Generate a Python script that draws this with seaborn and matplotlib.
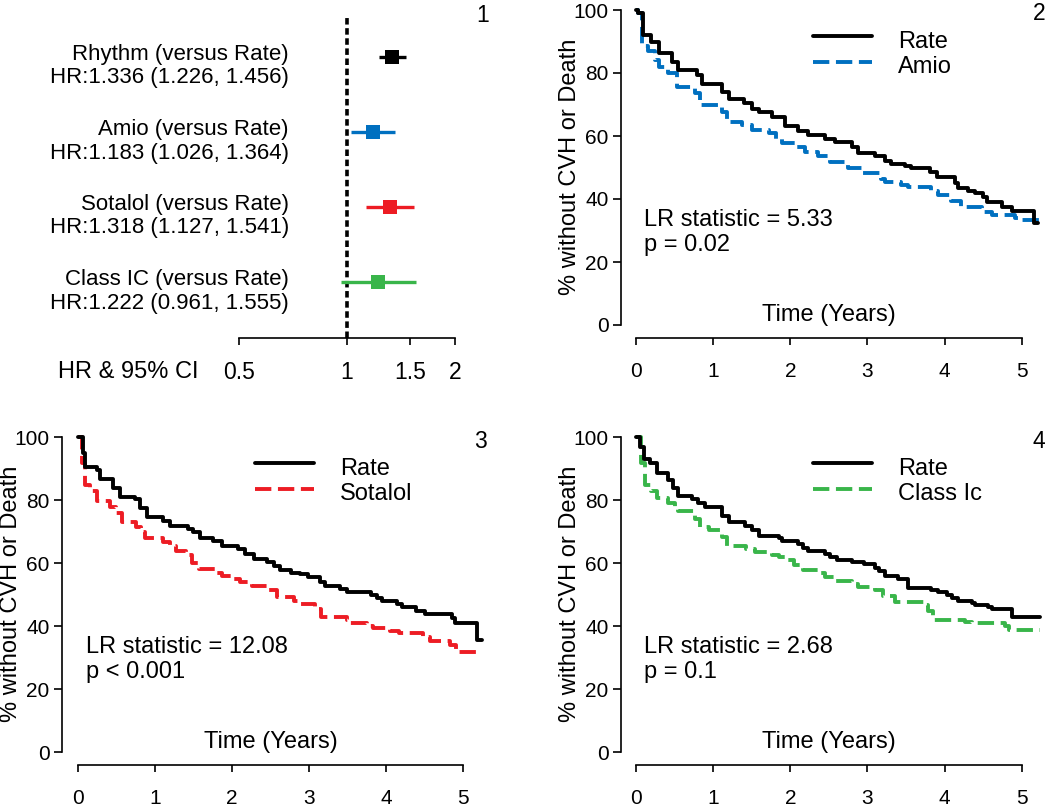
import matplotlib
matplotlib.use("Agg")
import matplotlib.pyplot as plt
import seaborn as sns
import pandas as pd
from matplotlib.ticker import NullLocator
from matplotlib.lines import Line2D

# ---- data: forest plot (panel 1) ----
forest_labels = ["Rhythm (versus Rate)", "Amio (versus Rate)",
                 "Sotalol (versus Rate)", "Class IC (versus Rate)"]
hr = [1.336, 1.183, 1.318, 1.222]
hr_lo = [1.226, 1.026, 1.127, 0.961]
hr_hi = [1.456, 1.364, 1.541, 1.555]
forest_colors = ["#000000", "#0070C0", "#ED1C24", "#39B54A"]

# ---- data: Kaplan-Meier steps (time in years, % without CVH or death) ----
rate2_t = [0, 0.03, 0.095, 0.2, 0.3, 0.47, 0.55, 0.79, 0.85, 1.11, 1.2, 1.4, 1.5, 1.6, 1.76, 1.93,
           2.1, 2.23, 2.45, 2.58, 2.8, 2.88, 3.1, 3.23, 3.31, 3.49, 3.57, 3.81, 3.9, 4.13, 4.18, 4.3,
           4.39, 4.5, 4.55, 4.74, 4.87, 5.16, 5.21]
rate2_s = [100, 99, 92, 90, 86.5, 83.5, 81, 79.5, 76.5, 74, 71.7, 70.5, 68.5, 67.5, 66, 63.2,
           61.5, 60.3, 59, 58, 56.5, 54.5, 53.5, 52, 51.2, 50.5, 50, 48.5, 47, 45, 43.6, 42.5,
           42, 40.5, 39, 37.5, 36.3, 32.5, 32.5]
amio_t = [0, 0.03, 0.08, 0.16, 0.25, 0.3, 0.42, 0.53, 0.77, 0.83, 1.11, 1.18, 1.37, 1.5, 1.72, 1.82,
          1.89, 2.06, 2.19, 2.36, 2.52, 2.75, 2.93, 3.18, 3.23, 3.44, 3.53, 3.83, 3.92, 4.09, 4.22,
          4.48, 4.61, 4.91, 4.96, 5.24]
amio_s = [100, 99, 88.6, 87, 84, 82, 80, 75.4, 73.5, 69.8, 67.5, 64.6, 63.5, 62, 61, 59,
          57.9, 56.5, 55, 53.5, 51.9, 50, 48.1, 46.5, 45.5, 44.5, 43.8, 42.5, 41.3, 39.5, 37.4,
          36, 34.8, 34, 33.3, 33.3]

rate3_t = [0, 0.07, 0.1, 0.25, 0.29, 0.46, 0.55, 0.74, 0.81, 0.9, 1.11, 1.2, 1.43, 1.5, 1.59, 1.76,
           1.87, 2.08, 2.17, 2.28, 2.45, 2.54, 2.62, 2.77, 2.88, 2.99, 3.14, 3.21, 3.4, 3.49, 3.8,
           3.88, 3.94, 4.14, 4.2, 4.39, 4.5, 4.85, 4.89, 5.18, 5.24]
rate3_s = [100, 95, 90.5, 89.5, 86.8, 84, 81, 80.5, 77.5, 74.8, 73.5, 72, 71, 70, 68, 67,
           65.6, 64.5, 63, 61.4, 60.5, 59, 58, 57, 56.5, 55.6, 54, 52.9, 52, 50.8, 50,
           49, 48.1, 47, 46, 45, 43.9, 42.5, 41, 35.7, 35.7]
sotalol_t = [0, 0.05, 0.1, 0.16, 0.25, 0.42, 0.5, 0.57, 0.76, 0.82, 0.87, 1.11, 1.2, 1.28, 1.41,
             1.48, 1.57, 1.8, 1.87, 2.0, 2.1, 2.26, 2.45, 2.58, 2.8, 2.9, 3.08, 3.16, 3.49, 3.53,
             3.75, 3.83, 4.05, 4.16, 4.48, 4.57, 4.83, 4.91, 5.24]
sotalol_s = [100, 92, 84.7, 83, 79.9, 78, 76, 73, 71.5, 70, 68, 66.8, 65.6, 64, 62.5,
             60, 58.2, 57, 56, 55, 54, 52.9, 51.5, 49.2, 48, 47.1, 45.5, 42.9, 42, 41,
             40.2, 39.4, 38.5, 37.8, 36.5, 35.4, 34, 31.7, 31.7]

rate4_t = [0, 0.05, 0.1, 0.18, 0.27, 0.42, 0.48, 0.55, 0.72, 0.81, 0.89, 1.11, 1.2, 1.41, 1.5, 1.59,
           1.85, 1.89, 2.1, 2.17, 2.23, 2.45, 2.52, 2.6, 2.8, 2.95, 3.1, 3.15, 3.23, 3.4, 3.53,
           3.83, 3.92, 4.03, 4.1, 4.18, 4.35, 4.4, 4.57, 4.61, 4.87, 5.24]
rate4_s = [100, 97, 93.1, 92, 88.7, 86.5, 84, 81.5, 80.5, 79, 77.8, 75, 73, 72, 70.5, 68.8,
           68, 67.2, 66, 65, 64, 63, 62, 61.2, 60.5, 59.8, 58.5, 57.5, 56.1, 55, 52.2,
           51.5, 50.8, 50, 49, 48.1, 47.5, 46.8, 46, 45.5, 42.9, 42.9]
classic_t = [0, 0.07, 0.12, 0.2, 0.27, 0.42, 0.5, 0.55, 0.77, 0.83, 0.95, 1.11, 1.18, 1.43, 1.54,
             1.76, 1.85, 1.97, 2.05, 2.17, 2.38, 2.45, 2.58, 2.8, 2.88, 3.1, 3.2, 3.36, 3.75, 3.79,
             3.85, 4.27, 4.35, 4.78, 4.83, 5.24]
classic_s = [100, 92, 84.9, 83, 80.6, 79, 78, 76.7, 74, 71.4, 70.5, 68.5, 65.6, 64.5, 63.5,
             62.5, 62, 61, 59.5, 57.9, 57, 55.5, 54.5, 53.5, 52.6, 51.5, 49.5, 47.8, 46.8, 45,
             42, 41.5, 41, 40.2, 38.8, 38.8]

sns.set_theme(style="ticks")
plt.rcParams["font.family"] = ["Liberation Sans", "DejaVu Sans"]

W, H = 1050, 807
fig = plt.figure(figsize=(W / 100, H / 100), dpi=100)


def px_axes(left, top, right, bottom):
    # place an axes using pixel coordinates measured from the top-left corner
    return fig.add_axes([left / W, 1 - bottom / H, (right - left) / W, (bottom - top) / H])


def ftext(x, y, s, **kw):
    fig.text(x / W, 1 - y / H, s, color="black", **kw)


def fline(x1, x2, y, **kw):
    fig.add_artist(Line2D([x1 / W, x2 / W], [1 - y / H, 1 - y / H],
                          transform=fig.transFigure, **kw))


LW = 2.8
DASH = (0, (4.2, 1.7))
TXT = 17

# ---------------- panel 1: forest plot ----------------
ax1 = px_axes(239, 10, 455, 338)
ax1.set_xscale("log")
rows = [4, 3, 2, 1]
for r, lo, hi, c in zip(rows, hr_lo, hr_hi, forest_colors):
    ax1.hlines(r, lo, hi, color=c, lw=2.4, zorder=2)
sns.scatterplot(x=hr, y=rows, hue=forest_labels, palette=forest_colors, marker="s", s=95,
                edgecolor="none", legend=False, ax=ax1, zorder=3)
ax1.axvline(1, ymin=0, ymax=0.979, color="black", lw=2.6, linestyle=(0, (1.8, 1.0)), zorder=1)
ax1.set_xlim(0.5, 2)
ax1.set_ylim(0.253, 4.627)
ax1.set_xticks([0.5, 1, 1.5, 2])
ax1.set_xticklabels(["0.5", "1", "1.5", "2"])
ax1.xaxis.set_minor_locator(NullLocator())
ax1.set_yticks([])
for sp in ["top", "right", "left"]:
    ax1.spines[sp].set_visible(False)
ax1.spines["bottom"].set_linewidth(1.2)
ax1.spines["bottom"].set_color("black")
ax1.tick_params(axis="x", direction="out", length=5, width=1.2, pad=11.5,
                labelsize=16.5, colors="black")
ax1.set_xlabel("")
ax1.set_ylabel("")

for i, (lab, h, lo, hi) in enumerate(zip(forest_labels, hr, hr_lo, hr_hi)):
    base = 60 + 75 * i
    ftext(289, base, lab, ha="right", va="baseline", fontsize=16)
    ftext(289, base + 23.5, f"HR:{h:.3f} ({lo:.3f}, {hi:.3f})", ha="right", va="baseline", fontsize=16)
ftext(58, 378, "HR & 95% CI", ha="left", va="baseline", fontsize=TXT)
ftext(483, 15, "1", ha="center", va="center", fontsize=16.5)


# ---------------- KM panels ----------------
def km_panel(box, x0px, y100px, t_a, s_a, t_b, s_b, color, name, lr, p, num):
    left, top, right, bottom = box
    ax = px_axes(left, top, right, bottom)
    ppy = 77.13
    ppu = 3.15
    y0px = y100px + 100 * ppu
    ax.set_xlim((left - x0px) / ppy, (right - x0px) / ppy)
    ax.set_ylim(-(bottom - y0px) / ppu, 100 + (y100px - top) / ppu)

    df_a = pd.DataFrame({"t": t_a, "s": s_a})
    df_b = pd.DataFrame({"t": t_b, "s": s_b})
    sns.lineplot(data=df_b, x="t", y="s", ax=ax, color=color, lw=LW, linestyle=DASH,
                 drawstyle="steps-post", estimator=None, sort=False, zorder=2)
    sns.lineplot(data=df_a, x="t", y="s", ax=ax, color="black", lw=LW,
                 drawstyle="steps-post", estimator=None, sort=False, zorder=3)

    ax.set_xticks(range(6))
    ax.set_yticks(range(0, 101, 20))
    ax.spines["left"].set_bounds(0, 100)
    ax.spines["bottom"].set_bounds(0, 5)
    for sp in ["top", "right"]:
        ax.spines[sp].set_visible(False)
    for sp in ["left", "bottom"]:
        ax.spines[sp].set_linewidth(1.2)
        ax.spines[sp].set_color("black")
    ax.tick_params(axis="y", direction="out", length=6, width=1.2, pad=3,
                   labelsize=15, colors="black")
    ax.tick_params(axis="x", direction="out", length=5, width=1.2, pad=12,
                   labelsize=15, colors="black")
    ax.set_xlabel("")
    ax.set_ylabel("")

    # legend, statistics and axis titles
    xl = x0px + 177
    ly = y100px + 26
    fline(xl, xl + 59, ly, color="black", lw=LW)
    fline(xl, xl + 59, ly + 26, color=color, lw=LW, linestyle=DASH)
    ftext(xl + 85, ly + 12, "Rate", ha="left", va="baseline", fontsize=TXT)
    ftext(xl + 85, ly + 37, name, ha="left", va="baseline", fontsize=TXT)

    ftext(x0px + 8, y100px + 216, f"LR statistic = {lr}", ha="left", va="baseline", fontsize=TXT)
    ftext(x0px + 8, y100px + 241, p, ha="left", va="baseline", fontsize=TXT)
    ftext(x0px + 193, y100px + 311, "Time (Years)", ha="center", va="baseline", fontsize=TXT)
    ftext(left - 51, y100px + 157, "% without CVH or Death", ha="center", va="center",
          rotation=90, fontsize=TXT)
    ftext(x0px + 403, y100px + 4, num, ha="center", va="center", fontsize=16.5)
    return ax


km_panel((621, 0, 1050, 338), 636, 10, rate2_t, rate2_s, amio_t, amio_s,
         "#0070C0", "Amio", "5.33", "p = 0.02", "2")
km_panel((62, 427, 490, 765), 77.7, 437.3, rate3_t, rate3_s, sotalol_t, sotalol_s,
         "#ED1C24", "Sotalol", "12.08", "p < 0.001", "3")
km_panel((621, 427, 1050, 765), 636, 437.3, rate4_t, rate4_s, classic_t, classic_s,
         "#39B54A", "Class Ic", "2.68", "p = 0.1", "4")

fig.savefig("out.png", dpi=100)
